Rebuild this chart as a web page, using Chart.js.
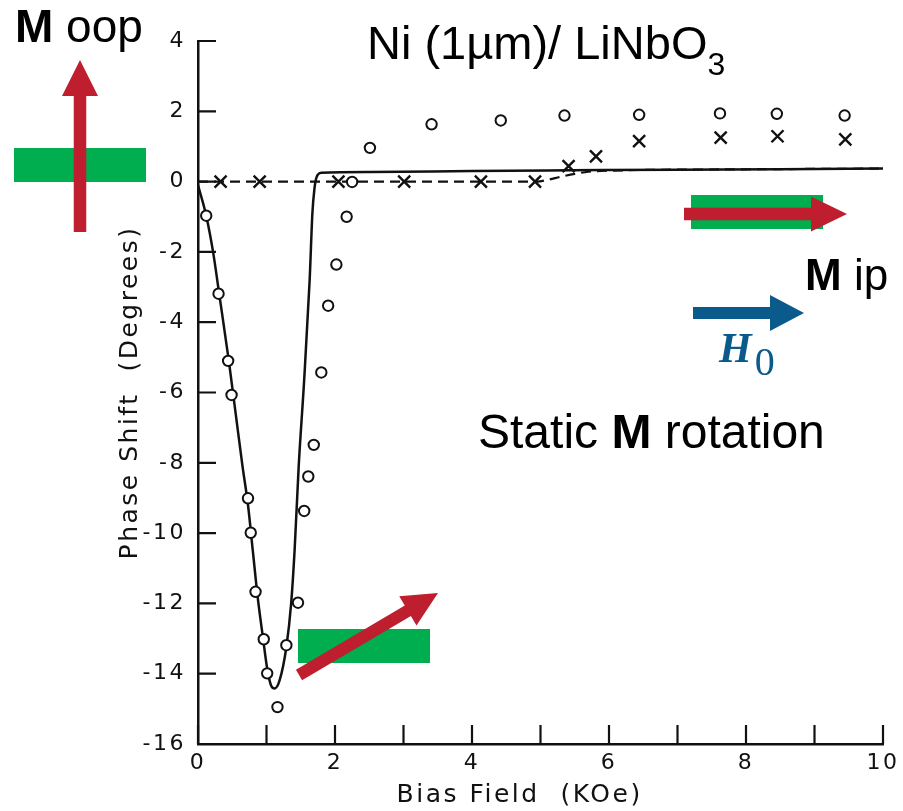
<!DOCTYPE html>
<html>
<head>
<meta charset="utf-8">
<script src="https://cdn.jsdelivr.net/npm/chart.js@4.4.0/dist/chart.umd.min.js"></script>
<style>
  html, body { margin: 0; padding: 0; background: #fff; }
  #wrap { position: relative; width: 903px; height: 811px; }
</style>
</head>
<body>
<div id="wrap"><canvas id="c" width="903" height="811"></canvas></div>
<script>
// ---- data ----
const xTickValues = [0, 1, 2, 3, 4, 5, 6, 7, 8, 9, 10];
const yTickValues = [-16, -14, -12, -10, -8, -6, -4, -2, 0, 2, 4];

// measured phase shift (circles)
const circleX = [0.12, 0.30, 0.44, 0.49, 0.73, 0.77, 0.84, 0.96, 1.01, 1.16, 1.29, 1.46, 1.55, 1.61, 1.69, 1.80, 1.90, 2.02, 2.17, 2.25, 2.51, 3.41, 4.42, 5.35, 6.44, 7.62, 8.45, 9.44];
const circleY = [-0.97, -3.19, -5.10, -6.07, -9.01, -9.99, -11.67, -13.02, -13.99, -14.95, -13.19, -11.98, -9.37, -8.39, -7.49, -5.43, -3.53, -2.36, -1.00, -0.01, 0.96, 1.63, 1.74, 1.88, 1.90, 1.94, 1.93, 1.88];

// second measurement (crosses)
const crossX = [0.33, 0.90, 2.05, 3.01, 4.13, 4.92, 5.41, 5.81, 6.44, 7.63, 8.46, 9.45];
const crossY = [0, 0, 0, 0, 0, 0, 0.44, 0.72, 1.15, 1.25, 1.29, 1.20];

// solid theory curve
const fitX = [0, 0.12, 0.22, 0.31, 0.45, 0.55, 0.65, 0.73, 0.80, 0.87, 0.95, 1.01, 1.07, 1.12, 1.19, 1.29, 1.36, 1.41, 1.47, 1.55, 1.63, 1.67, 1.70, 1.73, 1.80, 2.5, 4.0, 5.44, 7.0, 8.5, 10];
const fitY = [-0.1, -0.97, -2.0, -3.2, -5.1, -6.6, -8.1, -9.2, -10.5, -11.8, -13.0, -13.85, -14.35, -14.42, -14.2, -13.24, -12.0, -10.5, -8.1, -5.64, -2.8, -0.9, -0.2, 0.12, 0.25, 0.27, 0.30, 0.32, 0.34, 0.35, 0.37];

// dashed theory curve
const dashX = [0, 4.95, 5.1, 5.3, 5.5, 5.7, 6.0, 8.0, 10];
const dashY = [0, 0, 0.05, 0.14, 0.22, 0.28, 0.31, 0.35, 0.37];

const toPts = (xs, ys) => xs.map((x, i) => ({ x: x, y: ys[i] }));

const RED = '#BE1E2D', GREEN = '#00AD4F', BLUE = '#0B5A8C';

function arrow(ctx, x1, y1, x2, y2, shaftW, headLen, headHalf, color) {
  const ang = Math.atan2(y2 - y1, x2 - x1);
  const len = Math.hypot(x2 - x1, y2 - y1);
  ctx.save();
  ctx.translate(x1, y1);
  ctx.rotate(ang);
  ctx.fillStyle = color;
  ctx.beginPath();
  ctx.moveTo(0, -shaftW / 2);
  ctx.lineTo(len - headLen, -shaftW / 2);
  ctx.lineTo(len - headLen, -headHalf);
  ctx.lineTo(len, 0);
  ctx.lineTo(len - headLen, headHalf);
  ctx.lineTo(len - headLen, shaftW / 2);
  ctx.lineTo(0, shaftW / 2);
  ctx.closePath();
  ctx.fill();
  ctx.restore();
}

const spacingPlugin = {
  id: 'spacing',
  beforeDraw(chart) { chart.ctx.letterSpacing = '2.5px'; }
};

const ticksPlugin = {
  id: 'inwardTicks',
  afterDraw(chart) {
    const ctx = chart.ctx, xs = chart.scales.x, ys = chart.scales.y;
    const a = chart.chartArea;
    ctx.save();
    ctx.strokeStyle = '#111';
    ctx.lineWidth = 2.2;
    ctx.beginPath();
    xs.ticks.forEach((t, i) => {
      const px = xs.getPixelForTick(i);
      ctx.moveTo(px, a.bottom); ctx.lineTo(px, a.bottom - 19);
    });
    ys.ticks.forEach((t, i) => {
      const py = ys.getPixelForTick(i);
      ctx.moveTo(a.left, py); ctx.lineTo(a.left + 18, py);
    });
    ctx.stroke();
    ctx.restore();
  }
};

const annotPlugin = {
  id: 'annot',
  afterDraw(chart) {
    const ctx = chart.ctx;
    ctx.save();
    ctx.letterSpacing = '0px';
    ctx.textBaseline = 'alphabetic';
    ctx.textAlign = 'left';
    // left: out-of-plane magnetisation
    ctx.fillStyle = GREEN;
    ctx.fillRect(14, 148, 132, 34);
    arrow(ctx, 80, 232, 80, 60, 12.5, 36, 18, RED);
    ctx.fillStyle = '#000';
    ctx.font = 'bold 46px "Liberation Sans", Arial, sans-serif';
    ctx.fillText('M', 15, 42);
    let w = ctx.measureText('M').width;
    ctx.font = '46px "Liberation Sans", Arial, sans-serif';
    ctx.fillText(' oop', 15 + w, 42);

    // title
    ctx.font = '47px "Liberation Sans", Arial, sans-serif';
    const t1 = 'Ni (1µm)/ LiNbO';
    ctx.fillText(t1, 367, 59);
    w = ctx.measureText(t1).width;
    ctx.font = '32px "Liberation Sans", Arial, sans-serif';
    ctx.fillText('3', 367 + w, 75);

    // top right: in-plane magnetisation
    ctx.fillStyle = GREEN;
    ctx.fillRect(691, 195, 132, 34);
    arrow(ctx, 684, 214, 847, 214, 12.5, 36, 17.5, RED);
    ctx.fillStyle = '#000';
    ctx.font = 'bold 44px "Liberation Sans", Arial, sans-serif';
    ctx.fillText('M', 805, 290);
    w = ctx.measureText('M').width;
    ctx.font = '44px "Liberation Sans", Arial, sans-serif';
    ctx.fillText(' ip', 805 + w, 290);

    // bias field arrow
    arrow(ctx, 693, 313, 804, 313, 12, 34, 18, BLUE);
    ctx.fillStyle = BLUE;
    ctx.font = 'bold italic 42px "Liberation Serif", "DejaVu Serif", serif';
    ctx.fillText('H', 719, 362);
    w = ctx.measureText('H').width;
    ctx.font = '40px "Liberation Serif", "DejaVu Serif", serif';
    ctx.fillText('0', 719 + w + 3, 375);

    // static rotation label
    ctx.fillStyle = '#000';
    ctx.font = '48px "Liberation Sans", Arial, sans-serif';
    ctx.fillText('Static ', 478, 448);
    w = ctx.measureText('Static ').width;
    ctx.font = 'bold 48px "Liberation Sans", Arial, sans-serif';
    ctx.fillText('M', 478 + w, 448);
    const w2 = ctx.measureText('M').width;
    ctx.font = '48px "Liberation Sans", Arial, sans-serif';
    ctx.fillText(' rotation', 478 + w + w2, 448);

    // bottom: tilted magnetisation
    ctx.fillStyle = GREEN;
    ctx.fillRect(298, 629, 132, 34);
    arrow(ctx, 299, 675, 438, 593, 12, 35, 17, RED);
    ctx.restore();
  }
};

new Chart(document.getElementById('c'), {
  type: 'scatter',
  data: {
    datasets: [
      {
        label: 'circles',
        data: toPts(circleX, circleY),
        pointStyle: 'circle',
        pointRadius: 5.2,
        pointBorderWidth: 2,
        pointBackgroundColor: '#fff',
        pointBorderColor: '#111',
        showLine: false
      },
      {
        label: 'crosses',
        data: toPts(crossX, crossY),
        pointStyle: 'crossRot',
        pointRadius: 8.5,
        pointBorderWidth: 2.4,
        pointBorderColor: '#111',
        pointBackgroundColor: '#111',
        showLine: false
      },
      {
        label: 'theory solid',
        data: toPts(fitX, fitY),
        showLine: true,
        borderColor: '#111',
        borderWidth: 2.5,
        pointRadius: 0,
        cubicInterpolationMode: 'monotone',
        fill: false
      },
      {
        label: 'theory dashed',
        data: toPts(dashX, dashY),
        showLine: true,
        borderColor: '#111',
        borderWidth: 2.2,
        borderDash: [10, 6],
        pointRadius: 0,
        cubicInterpolationMode: 'monotone',
        fill: false
      }
    ]
  },
  options: {
    responsive: false,
    animation: false,
    devicePixelRatio: 1,
    layout: { padding: { left: 0, right: 16, top: 41, bottom: 0 } },
    plugins: { legend: { display: false }, tooltip: { enabled: false }, title: { display: false } },
    scales: {
      x: {
        type: 'linear', min: 0, max: 10,
        afterFit(s) { s.height = 67; },
        afterBuildTicks(s) { s.ticks = xTickValues.map(v => ({ value: v })); },
        grid: { display: false, drawTicks: false },
        border: { display: true, color: '#111', width: 2.5 },
        ticks: {
          autoSkip: false, maxRotation: 0, padding: 6,
          color: '#111',
          font: { family: '"DejaVu Sans", sans-serif', size: 22 },
          callback: v => (v % 2 === 0 ? String(v) : '')
        },
        title: {
          display: true, text: 'Bias Field  (KOe)    ', color: '#111',
          font: { family: '"DejaVu Sans", sans-serif', size: 25 },
          padding: { top: 0, bottom: 1 }
        }
      },
      y: {
        type: 'linear', min: -16, max: 4,
        afterFit(s) { s.width = 198; },
        afterBuildTicks(s) { s.ticks = yTickValues.map(v => ({ value: v })); },
        grid: { display: false, drawTicks: false },
        border: { display: true, color: '#111', width: 2.5 },
        ticks: {
          autoSkip: false, padding: 12,
          color: '#111',
          font: { family: '"DejaVu Sans", sans-serif', size: 22 }
        },
        title: {
          display: true, text: 'Phase Shift  (Degrees)', color: '#111',
          font: { family: '"DejaVu Sans", sans-serif', size: 25 },
          padding: { top: 115, bottom: 0 }
        }
      }
    }
  },
  plugins: [spacingPlugin, ticksPlugin, annotPlugin]
});
</script>
</body>
</html>
